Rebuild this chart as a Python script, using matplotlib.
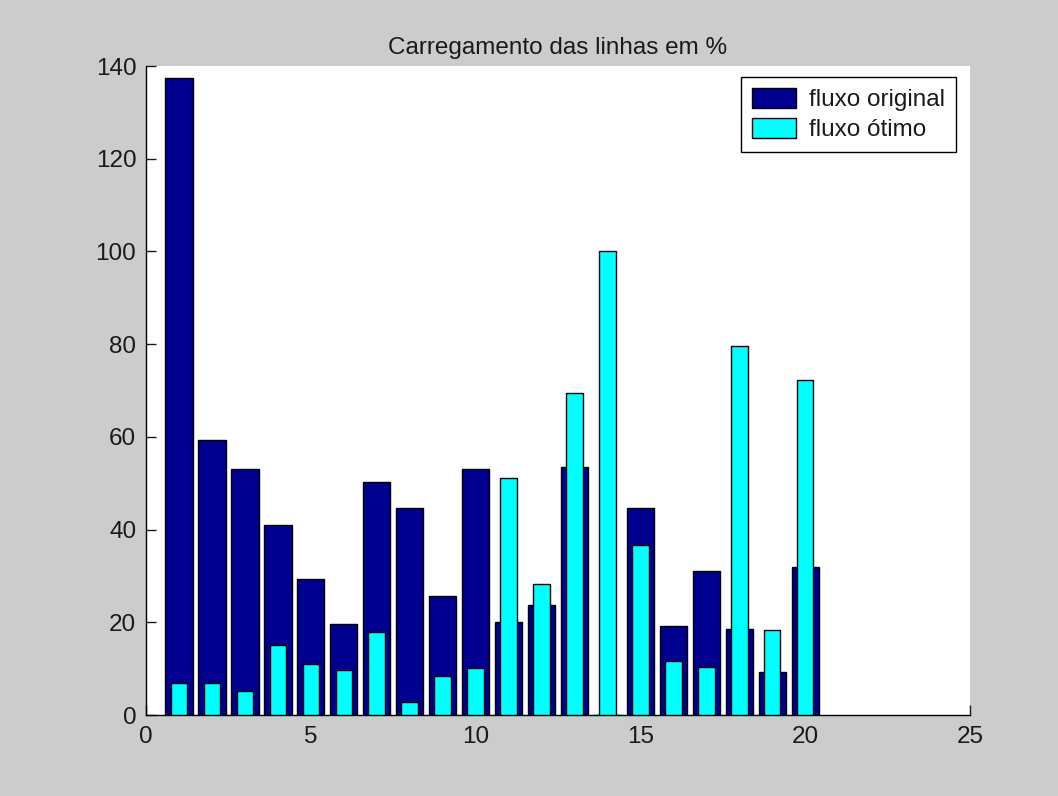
import matplotlib
matplotlib.use("Agg")
import matplotlib.pyplot as plt
import numpy as np

plt.rcParams['font.family'] = ['Liberation Sans', 'DejaVu Sans']

lines = list(range(1, 21))
fluxo_original = [137.5, 59.3, 53.1, 40.9, 29.4, 19.6, 50.3, 44.7, 25.7, 53.1,
                  20.0, 23.7, 53.6, 0.0, 44.7, 19.2, 31.1, 18.5, 9.3, 31.9]
fluxo_otimo = [6.8, 6.8, 5.2, 15.0, 10.9, 9.6, 17.8, 2.7, 8.5, 10.1,
               51.1, 28.2, 69.5, 100.0, 36.7, 11.6, 10.4, 79.7, 18.3, 72.3]
x_ticks = [0, 5, 10, 15, 20, 25]
y_ticks = [0, 20, 40, 60, 80, 100, 120, 140]

FS = 17.5

fig = plt.figure(figsize=(10.58, 7.96), dpi=100, facecolor='#cccccc')
ax = fig.add_axes([146/1058, 81/796, (970-146)/1058, (715-66)/796])
ax.set_facecolor('white')

ax.bar(lines, fluxo_original, width=0.83, color='#000090', edgecolor='black',
       linewidth=1.0, label='fluxo original', zorder=2)
ax.bar(lines, fluxo_otimo, width=0.5, color='#00ffff', edgecolor='black',
       linewidth=1.0, label='fluxo ótimo', zorder=3)

ax.set_xlim(0, 25)
ax.set_ylim(0, 140)
ax.set_xticks(x_ticks)
ax.set_yticks(y_ticks)
ax.tick_params(direction='in', length=7, width=1, labelsize=FS, colors='#1a1a1a')
ax.tick_params(axis='y', pad=7)
ax.tick_params(axis='x', pad=8)
ax.spines['top'].set_visible(False)
ax.spines['right'].set_visible(False)
for s in ('left', 'bottom'):
    ax.spines[s].set_linewidth(1)
ax.set_title('Carregamento das linhas em %', fontsize=FS, pad=9, color='#1a1a1a')

leg = ax.legend(loc='upper right', bbox_to_anchor=(0.983, 0.983), borderaxespad=0,
                fontsize=FS, fancybox=False, edgecolor='black', framealpha=1,
                handlelength=1.8, handleheight=0.9, borderpad=0.45,
                labelspacing=0.25, handletextpad=0.55)
leg.get_frame().set_linewidth(1)
for t in leg.get_texts():
    t.set_color('#1a1a1a')

fig.savefig('out.png', dpi=100, facecolor=fig.get_facecolor())
